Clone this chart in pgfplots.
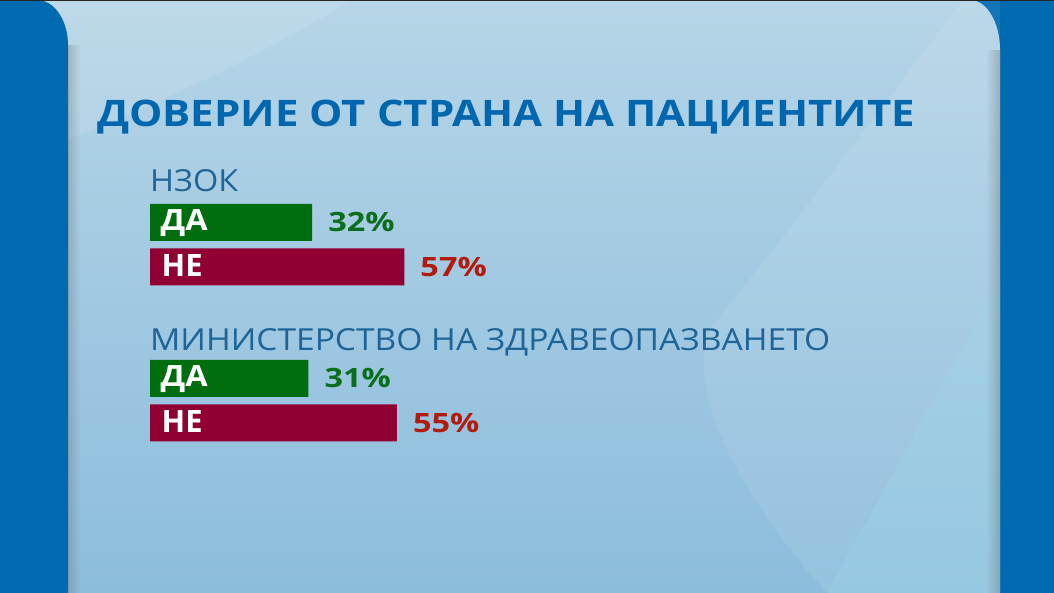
\documentclass[border=0pt]{standalone}
\usepackage{pgfplots}
\pgfplotsset{compat=1.18}
\usepackage{fontspec}
\setmainfont{Open Sans}
\usetikzlibrary{fadings}
\definecolor{sideblue}{RGB}{0,106,176}
\definecolor{titleblue}{RGB}{0,103,174}
\definecolor{subblue}{RGB}{30,100,150}
\definecolor{bargreen}{RGB}{0,109,15}
\definecolor{barred}{RGB}{145,0,51}
\definecolor{valgreen}{RGB}{10,110,28}
\definecolor{valred}{RGB}{178,28,14}
\definecolor{bgtop}{RGB}{182,213,231}
\definecolor{bgbot}{RGB}{140,189,220}
\definecolor{cyanlight}{RGB}{172,222,236}
\begin{document}
\begin{tikzpicture}[x=1pt,y=1pt]
% base and panel
\fill[sideblue] (0,0) rectangle (1054,593);
\shade[top color=bgtop, bottom color=bgbot]
  (0,0) -- (0,593) -- (970,593) arc[start angle=90,end angle=0,x radius=30,y radius=50] -- (1000,0) -- cycle;
% lighter arc top-left
\fill[white,opacity=0.10] (40,593-150) .. controls (150,593-110) and (270,593-50) .. (352,593) -- (40,593) -- cycle;
% light diagonal band on the right
\fill[white,opacity=0.08] (963,593) .. controls (880,593-110) and (790,593-230) .. (710,593-329)
  .. controls (680,593-400) and (760,593-520) .. (827,0) -- (1000,593-280) -- (1000,593) -- cycle;
% cyan corner region
\fill[cyanlight,opacity=0.35] (1000,593-280) -- (827,0) -- (1000,0) -- cycle;
% right edge shadow
\fill[black!60, opacity=0.35, path fading=west] (986,0) rectangle (1000,543);
% left blue with rounded corner
\fill[sideblue] (0,0) -- (0,593) -- (37,593) arc[start angle=90,end angle=0,x radius=31,y radius=45] -- (68,0) -- cycle;
% left shadow
\fill[black!60, opacity=0.3, path fading=east] (68,0) rectangle (80,548);
% top dark line
\fill[black!85] (0,591.5) rectangle (1054,593);

% title & subtitles
\node[anchor=base west, inner sep=0pt, text=titleblue] at (97,593-127)
  {\resizebox{818pt}{26.5pt}{\bfseries ДОВЕРИЕ ОТ СТРАНА НА ПАЦИЕНТИТЕ}};
\node[anchor=base west, inner sep=0pt, text=subblue] at (150,593-192)
  {\resizebox{88pt}{22pt}{НЗОК}};
\node[anchor=base west, inner sep=0pt, text=subblue] at (150,593-351)
  {\resizebox{680pt}{22pt}{МИНИСТЕРСТВО НА ЗДРАВЕОПАЗВАНЕТО}};

\begin{axis}[
  at={(0,0)}, anchor=south west,
  width=1054pt, height=593pt, scale only axis,
  hide axis, clip=false,
  xmin=-52.705, xmax=233.32,
  ymin=0, ymax=593,
  xbar, bar width=37,
  x coord trafo/.code={\pgfmathparse{#1+12}},
  point meta=explicit,
  /pgf/number format/assume math mode=true,
  nodes near coords={\scalebox{1.22}[1]{\pgfmathprintnumber{\pgfplotspointmeta}\%}},
  every node near coord/.append style={anchor=west, inner sep=0pt, xshift=16pt,
    font=\bfseries\fontsize{26.6}{30}\selectfont},
]
\addplot[draw=none, fill=bargreen, bar shift=0pt,
  every node near coord/.append style={text=valgreen}]
  coordinates {(32,370.7) [32] (31,214.7) [31]};
\addplot[draw=none, fill=barred, bar shift=0pt,
  every node near coord/.append style={text=valred}]
  coordinates {(57,326.2) [57] (55,170.2) [55]};
\end{axis}

% labels inside bars
\node[anchor=base west, inner sep=0pt, text=white] at (160.5,593-231)
  {\resizebox{47pt}{21pt}{\bfseries ДА}};
\node[anchor=base west, inner sep=0pt, text=white] at (161.5,593-277)
  {\resizebox{41pt}{22pt}{\bfseries НЕ}};
\node[anchor=base west, inner sep=0pt, text=white] at (160.5,593-387)
  {\resizebox{47pt}{21pt}{\bfseries ДА}};
\node[anchor=base west, inner sep=0pt, text=white] at (161.5,593-433)
  {\resizebox{41pt}{22pt}{\bfseries НЕ}};
\end{tikzpicture}
\end{document}
